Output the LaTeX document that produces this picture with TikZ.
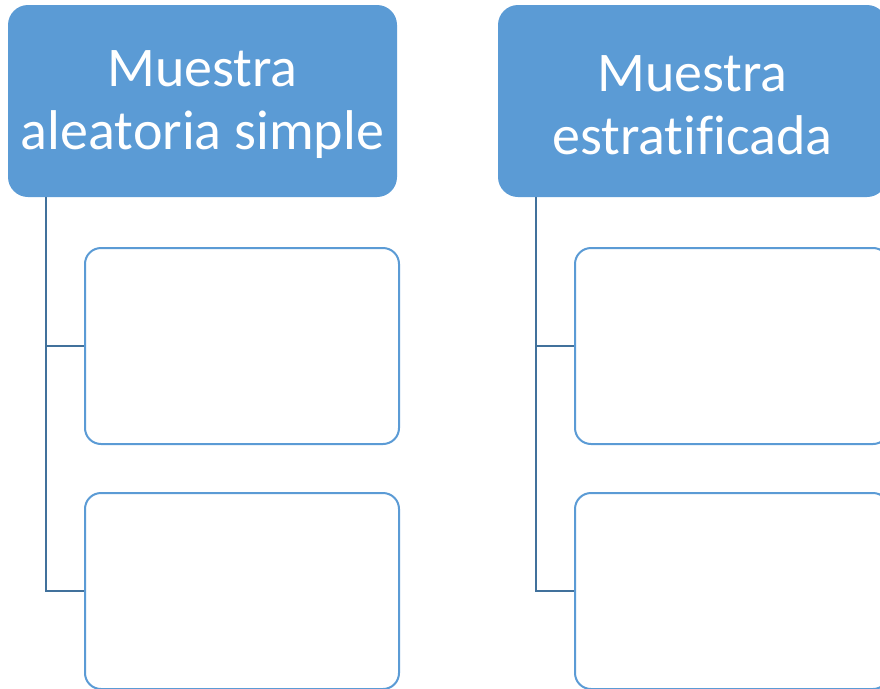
\documentclass[tikz,border=0pt]{standalone}
\usepackage{fontspec}
\setmainfont{Carlito}[Ligatures=NoCommon]
\definecolor{hdrblue}{HTML}{5B9BD5}
\definecolor{connblue}{HTML}{41719C}
\begin{document}
\begin{tikzpicture}[x=1pt,y=1pt,
  header/.style={fill=hdrblue, draw=none, rounded corners=20pt, minimum width=389pt, minimum height=192pt, inner sep=0pt, text=white, align=center, font=\fontsize{56}{63}\selectfont},
  htext/.style={text=white, align=center, font=\fontsize{56}{63}\selectfont, inner sep=0pt},
  childbox/.style={draw=hdrblue, line width=2pt, fill=white, rounded corners=16pt, minimum width=314pt, minimum height=196pt, inner sep=0pt},
  conn/.style={draw=connblue, line width=2.2pt}]
\useasboundingbox (0,0) rectangle (880,-688);
\node[header] (h1) at (202.5,-101) {};
\node[header] (h2) at (692.5,-101) {};
\node[htext] (l1) at ([yshift=-4pt]h1.center) {Muestra\\aleatoria simple};
\node[htext] (l2) at ([yshift=-4pt]h2.center) {Muestra\\estratificada};
\node[childbox] (c11) at (242,-346) {};
\node[childbox] (c12) at (242,-591) {};
\node[childbox] (c21) at (732,-346) {};
\node[childbox] (c22) at (732,-591) {};
\coordinate (t1) at ([xshift=38pt]h1.south west);
\coordinate (t2) at ([xshift=38pt]h2.south west);
\draw[conn] (t1) |- (c11.west);
\draw[conn] (t1) |- (c12.west);
\draw[conn] (t2) |- (c21.west);
\draw[conn] (t2) |- (c22.west);
\end{tikzpicture}
\end{document}
